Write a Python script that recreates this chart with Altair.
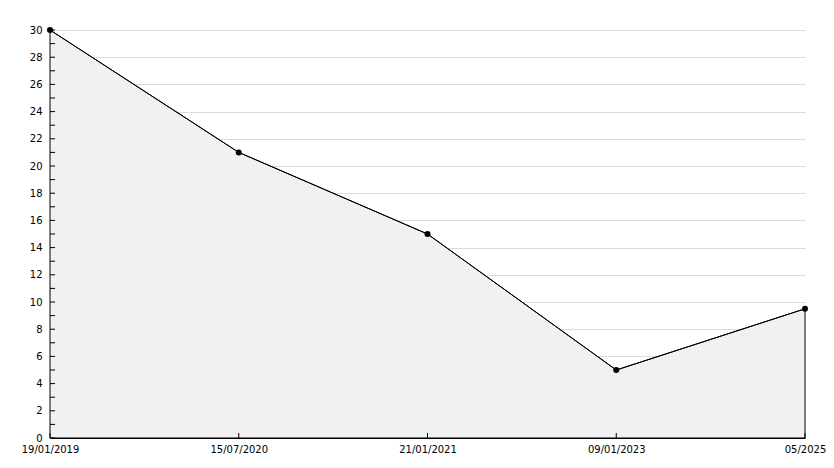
import altair as alt
import pandas as pd

dates = ["19/01/2019", "15/07/2020", "21/01/2021", "09/01/2023", "05/2025"]
values = [30, 21, 15, 5, 9.5]
y_minor_ticks = list(range(0, 31))
y_labels = list(range(0, 31, 2))

df = pd.DataFrame({"date": dates, "value": values})
ticks_df = pd.DataFrame({"value": y_minor_ticks})
xt_df = pd.DataFrame({"date": dates})

x_axis = alt.Axis(
    title=None, labelAngle=0, ticks=False, grid=False,
    domainColor="black", labelColor="black", labelFont="DejaVu Sans",
    labelFontSize=10, labelPadding=6, labelOverlap=False, labelFlush=False,
)
y_axis = alt.Axis(
    title=None, values=y_labels, ticks=False, grid=True, gridColor="#dcdcdc",
    domainColor="black", labelColor="black", labelFont="DejaVu Sans",
    labelFontSize=10, labelPadding=8, labelOverlap=False, labelFlush=False,
)
x_scale = alt.Scale(type="point", padding=0)
y_scale = alt.Scale(domain=[0, 30], nice=False, zero=True)

xenc = alt.X("date:N", sort=dates, scale=x_scale, axis=x_axis)
yenc = alt.Y("value:Q", scale=y_scale, axis=y_axis)

area = alt.Chart(df).mark_area(color="#f1f1f1", stroke="black", strokeWidth=1).encode(x=xenc, y=yenc)
line = alt.Chart(df).mark_line(color="black", strokeWidth=1).encode(x=xenc, y=yenc)
pts = alt.Chart(df).mark_point(filled=True, color="black", size=36, opacity=1, shape="circle").encode(x=xenc, y=yenc)

yticks = alt.Chart(ticks_df).mark_rule(color="black", strokeWidth=1).encode(
    y=yenc, x=alt.value(0), x2=alt.value(5)
)
xticks = alt.Chart(xt_df).mark_rule(color="black", strokeWidth=1).encode(
    x=xenc, y=alt.value(408), y2=alt.value(403)
)

chart = alt.layer(area, line, yticks, xticks, pts).properties(
    width=755, height=408,
    autosize=alt.AutoSizeParams(type="none"),
    padding={"left": 42, "top": 22, "right": 21, "bottom": 22},
    background="white",
).configure_view(stroke=None)

chart.save("out.html", embed_options={"renderer": "svg", "actions": False})
